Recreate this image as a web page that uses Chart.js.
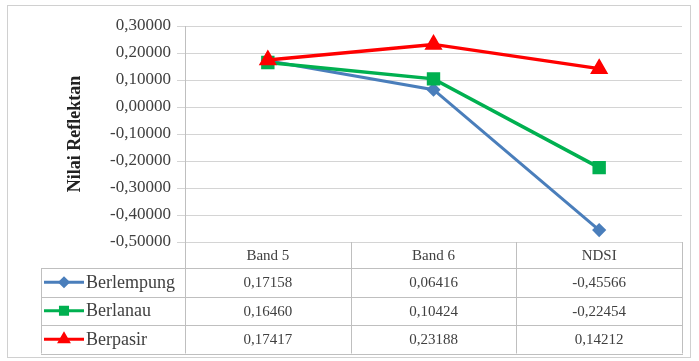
<!DOCTYPE html>
<html lang="id">
<head>
  <meta charset="UTF-8">
  <title>Nilai Reflektan</title>
  <script src="https://cdn.jsdelivr.net/npm/chart.js@4.4.0/dist/chart.umd.min.js"></script>
  <style>
    html, body { margin: 0; padding: 0; background: #fff; }
    #wrap { width: 699px; height: 361px; position: relative; }
  </style>
</head>
<body>
  <div id="wrap"><canvas id="chart" width="699" height="361"></canvas></div>
  <script>
    // data
    const categories = ['Band 5', 'Band 6', 'NDSI'];
    const berlempung = [0.17158, 0.06416, -0.45566];
    const berlanau   = [0.16460, 0.10424, -0.22454];
    const berpasir   = [0.17417, 0.23188, 0.14212];
    const yTicks = [0.3, 0.2, 0.1, 0.0, -0.1, -0.2, -0.3, -0.4, -0.5];

    const FONT = '"Liberation Serif", "Times New Roman", serif';
    const TXT = '#404040';
    const fmt = v => (Math.abs(v) < 1e-9 ? 0 : v).toFixed(5).replace('.', ',');

    // tabel data di bawah grafik, ala Excel
    const dataTable = {
      id: 'dataTable',
      beforeDraw(chart) {
        const c = chart.ctx;
        c.save();
        c.fillStyle = '#fff';
        c.fillRect(0, 0, chart.width, chart.height);
        c.strokeStyle = '#d0d0d0';
        c.lineWidth = 1;
        c.strokeRect(7.5, 5.5, 683, 352);
        c.restore();
      },
      afterDraw(chart) {
        const c = chart.ctx, a = chart.chartArea, xs = chart.scales.x;
        const headerH = 26, rowH = 28.5, legLeft = 41;
        const top = a.bottom, rowsTop = top + headerH;
        const bottom = rowsTop + rowH * chart.data.datasets.length;
        c.save();
        c.strokeStyle = '#bfbfbf';
        c.lineWidth = 1;
        c.beginPath();
        // garis vertikal kolom
        for (let i = 0; i <= categories.length; i++) {
          const x = Math.round(xs.getPixelForValue(i - 0.5)) + 0.5;
          c.moveTo(x, top); c.lineTo(x, bottom);
        }
        c.moveTo(legLeft + 0.5, rowsTop); c.lineTo(legLeft + 0.5, bottom);
        for (let r = 0; r <= chart.data.datasets.length; r++) {
          const y = Math.round(rowsTop + r * rowH) + 0.5;
          c.moveTo(legLeft, y); c.lineTo(Math.round(a.right) + 1, y);
        }
        c.stroke();

        c.font = '15px ' + FONT;
        c.fillStyle = TXT;
        c.textAlign = 'center';
        c.textBaseline = 'middle';
        categories.forEach((cat, i) => {
          c.fillText(cat, xs.getPixelForValue(i), top + headerH / 2 + 1);
        });
        chart.data.datasets.forEach((ds, r) => {
          const yc = rowsTop + r * rowH + rowH / 2 + 1;
          c.font = '15px ' + FONT;
          ds.data.forEach((v, i) => {
            c.textAlign = 'center';
            c.fillStyle = TXT;
            c.fillText(fmt(v), xs.getPixelForValue(i), yc);
          });
          // kunci legenda
          c.strokeStyle = ds.borderColor;
          c.lineWidth = 3;
          c.beginPath();
          c.moveTo(44, yc - 1); c.lineTo(84, yc - 1);
          c.stroke();
          Chart.helpers.drawPoint(c, {
            pointStyle: ds.pointStyle, radius: ds.legendRadius, rotation: 0, borderWidth: 1
          }, 64, yc - 1);
          c.fillStyle = ds.borderColor;
          c.fill();
          c.font = '18px ' + FONT;
          c.fillStyle = TXT;
          c.textAlign = 'left';
          c.fillText(ds.label, 86, yc);
        });
        c.restore();
      }
    };

    new Chart(document.getElementById('chart'), {
      type: 'line',
      data: {
        labels: categories,
        datasets: [
          { label: 'Berlempung', data: berlempung, borderColor: '#4a7ebb', backgroundColor: '#4a7ebb',
            borderWidth: 3, pointStyle: 'rectRot', pointRadius: 5, legendRadius: 4, order: 3 },
          { label: 'Berlanau', data: berlanau, borderColor: '#00b050', backgroundColor: '#00b050',
            borderWidth: 3.5, pointStyle: 'rect', pointRadius: 7, legendRadius: 5, order: 2 },
          { label: 'Berpasir', data: berpasir, borderColor: '#ff0000', backgroundColor: '#ff0000',
            borderWidth: 3.5, pointStyle: 'triangle', pointRadius: 7, legendRadius: 5, order: 1 }
        ]
      },
      options: {
        responsive: false,
        animation: false,
        layout: { padding: { left: 60, right: 17, top: 26, bottom: 119 } },
        plugins: { legend: { display: false }, tooltip: { enabled: false } },
        elements: { line: { tension: 0 }, point: { borderWidth: 1 } },
        scales: {
          x: { type: 'category', offset: true, display: false },
          y: {
            min: -0.5, max: 0.3,
            afterFit: s => { s.width = 125; },
            afterBuildTicks: s => { s.ticks = yTicks.map(v => ({ value: v })); },
            border: { display: true, color: '#bfbfbf', width: 1 },
            grid: { color: '#d4d4d4', lineWidth: 1, tickLength: 8, drawTicks: true },
            ticks: {
              color: TXT, padding: 6,
              font: { family: FONT, size: 17 },
              callback: v => fmt(v)
            },
            title: {
              display: true, text: 'Nilai Reflektan', color: '#222',
              font: { family: FONT, size: 18, weight: 'bold' }, padding: { top: 5, bottom: 0 }
            }
          }
        }
      },
      plugins: [dataTable]
    });
  </script>
</body>
</html>
